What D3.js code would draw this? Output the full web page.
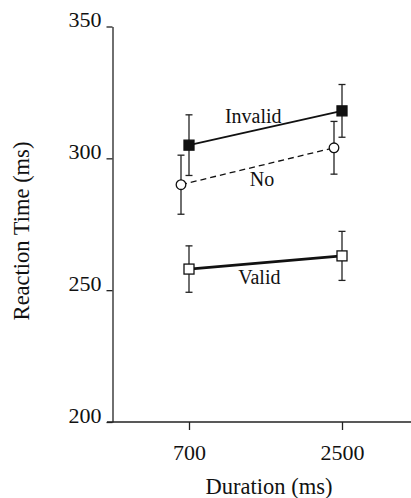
<!DOCTYPE html>
<html>
<head>
<meta charset="utf-8">
<script src="https://cdn.jsdelivr.net/npm/d3@7"></script>
<style>
  html, body { margin: 0; padding: 0; background: #fff; }
  svg { display: block; }
  text { font-family: "Liberation Serif", "Times New Roman", serif; fill: #111; }
</style>
</head>
<body>
<svg id="chart" width="411" height="498"></svg>
<script>
// Reaction time (ms) by cue condition and stimulus duration
const durations = ["700", "2500"];
const seriesNames = ["Invalid", "No", "Valid"];
const invalidRT = [305, 318];
const invalidErr = [11.5, 10];
const noRT = [290, 304];
const noErr = [11.2, 10];
const validRT = [258, 263];
const validErr = [8.8, 9.3];
const yTicks = [200, 250, 300, 350];

const series = [
  { name: seriesNames[0], values: invalidRT, errs: invalidErr, marker: "square", fill: "#111", width: 1.8, dash: null, dodge: 0, labelT: 0.42, labelDy: -8 },
  { name: seriesNames[1], values: noRT, errs: noErr, marker: "circle", fill: "#fff", width: 1.3, dash: "6,4", dodge: -8, labelT: 0.53, labelDy: 20.5 },
  { name: seriesNames[2], values: validRT, errs: validErr, marker: "square", fill: "#fff", width: 2.8, dash: null, dodge: 0, labelT: 0.46, labelDy: 20.5 }
];

const svg = d3.select("#chart");
const axisX0 = 107, axisX1 = 411;

const x = d3.scalePoint().domain(durations).range([189, 342]);
const y = d3.scaleLinear().domain([200, 350]).range([422, 26.5]);

// y axis; tick numbers sit on their tick marks
const gy = svg.append("g")
  .attr("transform", "translate(112.5,0)")
  .call(d3.axisLeft(y).tickValues(yTicks).tickSize(6).tickSizeOuter(0).tickPadding(5));
gy.selectAll("text").style("font-size", "22px").attr("font-family", null).attr("dy", "0.02em");
gy.selectAll("line, path").attr("stroke", "#222").attr("stroke-width", 1.3);

// x axis, with its baseline running the full plot width
const gx = svg.append("g")
  .attr("transform", `translate(0,${y(200)})`)
  .call(d3.axisBottom(x).tickSize(8).tickSizeOuter(0).tickPadding(14.5));
gx.select(".domain").attr("d", `M${axisX0},0H${axisX1}`);
gx.selectAll("text").style("font-size", "22px").attr("font-family", null);
gx.selectAll("line, path").attr("stroke", "#222").attr("stroke-width", 1.3);

// axis titles
svg.append("text")
  .attr("x", 269).attr("y", 494)
  .attr("text-anchor", "middle")
  .style("font-size", "22.5px")
  .text("Duration (ms)");

svg.append("text")
  .attr("transform", "translate(29,231) rotate(-90)")
  .attr("text-anchor", "middle")
  .style("font-size", "22.5px")
  .text("Reaction Time (ms)");

const px = (s, i) => x(durations[i]) + s.dodge;

series.forEach(s => {
  const g = svg.append("g");
  const pts = s.values.map((v, i) => ({ x: px(s, i), y: y(v), v, e: s.errs[i] }));

  // error bars
  pts.forEach(p => {
    const top = y(p.v + p.e), bot = y(p.v - p.e);
    g.append("line").attr("x1", p.x).attr("x2", p.x).attr("y1", top).attr("y2", bot)
      .attr("stroke", "#222").attr("stroke-width", 1.3);
    [top, bot].forEach(yy => g.append("line")
      .attr("x1", p.x - 3.5).attr("x2", p.x + 3.5).attr("y1", yy).attr("y2", yy)
      .attr("stroke", "#222").attr("stroke-width", 1.3));
  });

  // connecting line
  g.append("path")
    .attr("d", d3.line().x(d => d.x).y(d => d.y)(pts))
    .attr("fill", "none").attr("stroke", "#111")
    .attr("stroke-width", s.width)
    .attr("stroke-dasharray", s.dash);

  // markers
  pts.forEach(p => {
    if (s.marker === "square") {
      g.append("rect").attr("x", p.x - 5).attr("y", p.y - 5)
        .attr("width", 10).attr("height", 10)
        .attr("fill", s.fill).attr("stroke", "#111").attr("stroke-width", 1.3);
    } else {
      g.append("circle").attr("cx", p.x).attr("cy", p.y).attr("r", 4.8)
        .attr("fill", s.fill).attr("stroke", "#111").attr("stroke-width", 1.3);
    }
  });

  // series label placed along its line
  const lx = pts[0].x + (pts[1].x - pts[0].x) * s.labelT;
  const ly = pts[0].y + (pts[1].y - pts[0].y) * s.labelT + s.labelDy;
  g.append("text").attr("x", lx).attr("y", ly)
    .attr("text-anchor", "middle")
    .style("font-size", "20px")
    .text(s.name);
});
</script>
</body>
</html>
